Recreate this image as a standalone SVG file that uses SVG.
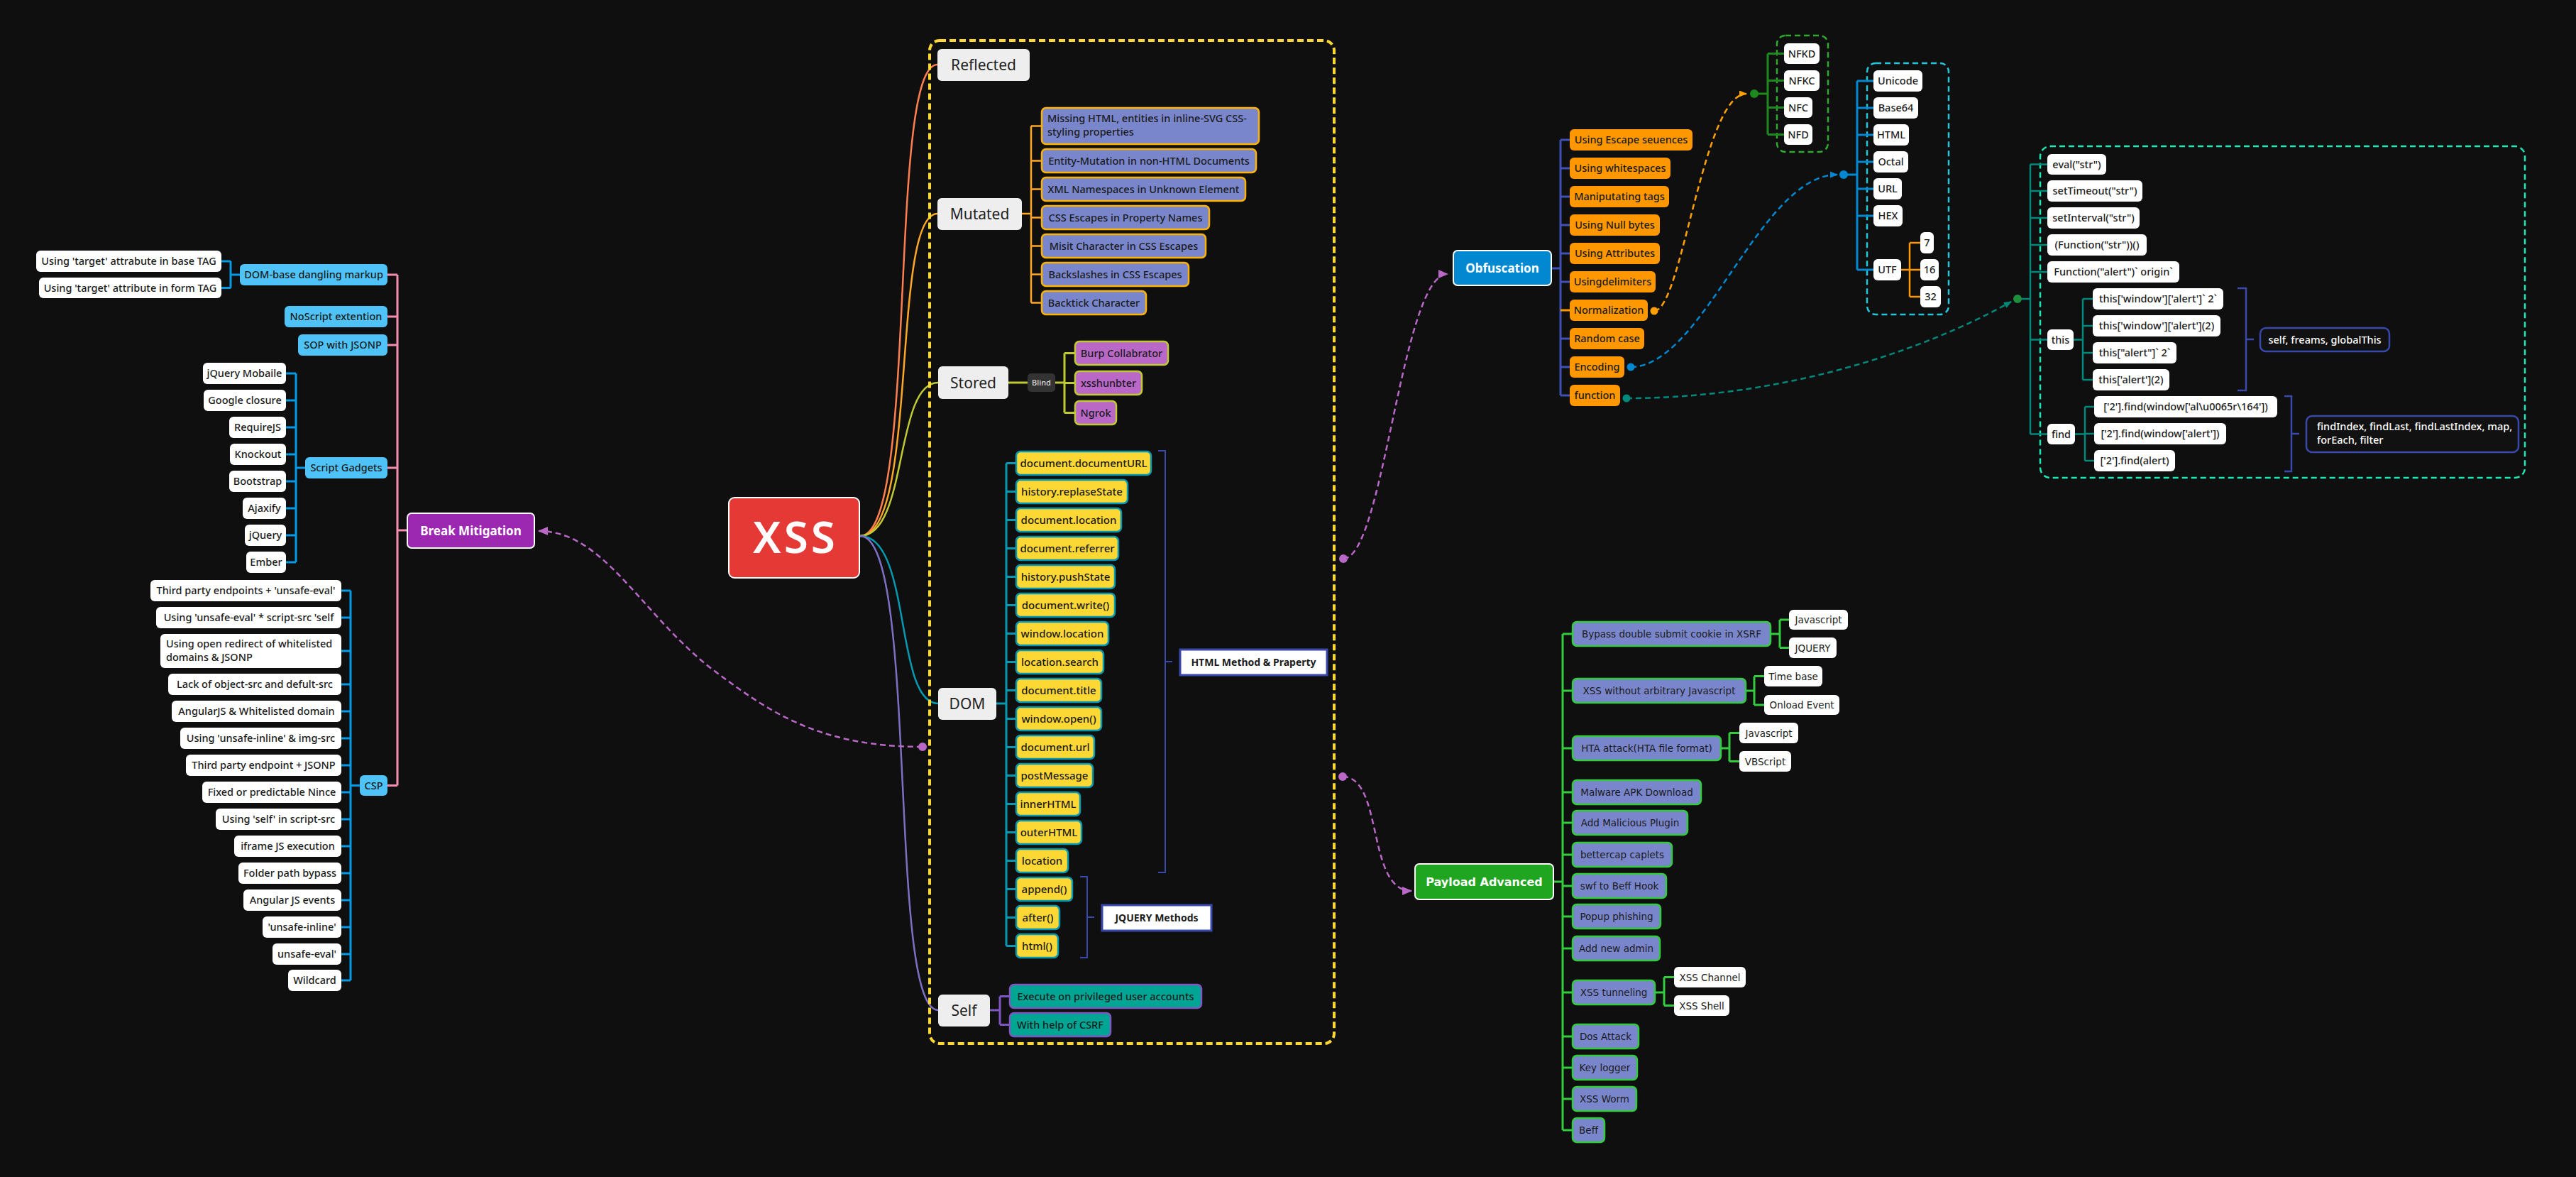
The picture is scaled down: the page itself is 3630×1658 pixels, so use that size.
<svg xmlns="http://www.w3.org/2000/svg" width="3630" height="1658" viewBox="0 0 3630 1658">
<defs>
<style>
text{font-family:"Noto Sans","Liberation Sans",sans-serif;font-size:14.5px;font-weight:500;fill:#1b1b1b;text-anchor:middle}
.l{text-anchor:start}
.main{font-size:21px;font-weight:400;fill:#222}
.dom{font-size:15px}
.pay{font-family:"DejaVu Sans","Liberation Sans",sans-serif;font-size:13.5px}
.hb{font-weight:700;font-size:14px}
.big{font-weight:700;font-size:17px;fill:#fff}
.pbig{font-family:"DejaVu Sans","Liberation Sans",sans-serif;font-weight:700;font-size:16px;fill:#fff}
.xss{font-size:62px;font-weight:600;fill:#fff;letter-spacing:4px}
.blind{font-size:11px;fill:#ddd}
.wt{fill:#fff}
.leaf{fill:#fff}
.mainr{fill:#eeeeee}
.blue{fill:#4FC3F7}
.mut{fill:#7986CB;stroke:#FFB300;stroke-width:2.5}
.sto{fill:#BA68C8;stroke:#C0CA33;stroke-width:2.5}
.domr{fill:#FDD835;stroke:#0599B2;stroke-width:2.5}
.selfr{fill:#00A693;stroke:#7E57C2;stroke-width:2.5}
.org{fill:#FF9800}
.payr{fill:#7986CB;stroke:#33CC3F;stroke-width:2.5}
.lab{fill:#fff;stroke:#3949AB;stroke-width:3}
.dark{fill:#111;stroke:#3949AB;stroke-width:2.5}
.c{fill:none;stroke-width:3}
.cur{fill:none;stroke-width:2.5}
.dash{fill:none;stroke-width:2.5;stroke-dasharray:8 5}
</style>
<marker id="ap" markerUnits="userSpaceOnUse" markerWidth="14" markerHeight="12" viewBox="0 0 14 12" refX="13" refY="6" orient="auto"><path d="M0,0 L14,6 L0,12 z" fill="#BA68C8"/></marker>
<marker id="ao" markerUnits="userSpaceOnUse" markerWidth="11" markerHeight="9" viewBox="0 0 11 9" refX="10" refY="4.5" orient="auto"><path d="M0,0 L11,4.5 L0,9 z" fill="#FFA000"/></marker>
<marker id="ab" markerUnits="userSpaceOnUse" markerWidth="11" markerHeight="9" viewBox="0 0 11 9" refX="10" refY="4.5" orient="auto"><path d="M0,0 L11,4.5 L0,9 z" fill="#0288D1"/></marker>
<marker id="at" markerUnits="userSpaceOnUse" markerWidth="11" markerHeight="9" viewBox="0 0 11 9" refX="10" refY="4.5" orient="auto"><path d="M0,0 L11,4.5 L0,9 z" fill="#00897B"/></marker>
</defs>
<rect x="0" y="0" width="3630" height="1658" fill="#0f0f0f"/>

<g id="connectors">
<path class="cur" stroke="#FF7F50" d="M1212 755 C1295 755 1250 91 1321 91"/>
<path class="cur" stroke="#FFA726" d="M1212 755 C1295 755 1255 301 1321 301"/>
<path class="cur" stroke="#C0CA33" d="M1212 755 C1280 755 1260 539 1322 539"/>
<path class="cur" stroke="#0599B2" d="M1212 755 C1285 755 1260 991 1322 991"/>
<path class="cur" stroke="#7E6FC2" d="M1212 755 C1295 755 1250 1423 1322 1423"/>
<path class="c" stroke="#F48FB1" d="M560 387 V1106.5 M546 387 H560 M546 446 H560 M546 486 H560 M546 659 H560 M546 1106.5 H560 M574 747 H560"/>
<path class="c" stroke="#039BE5" d="M325 368 V405.5 M312 368 H325 M312 405.5 H325 M325 387 H338"/>
<path class="c" stroke="#039BE5" d="M417 526 V792 M403 526 H417 M403 564 H417 M403 602 H417 M403 640 H417 M403 678 H417 M403 716 H417 M403 754 H417 M403 792 H417 M417 659 H430"/>
<path class="c" stroke="#039BE5" d="M494 832 V1381 M481 832 H494 M481 870 H494 M481 917 H494 M481 964 H494 M481 1002 H494 M481 1040 H494 M481 1078 H494 M481 1116 H494 M481 1154 H494 M481 1192 H494 M481 1230 H494 M481 1268 H494 M481 1306 H494 M481 1344 H494 M481 1381 H494 M494 1106.5 H507"/>
<path class="cur" stroke="#FFA726" d="M1453 177.5 V426.5 M1453 177.5 H1468 M1453 226.5 H1468 M1453 266.5 H1468 M1453 306.5 H1468 M1453 346.5 H1468 M1453 386.5 H1468 M1453 426.5 H1468 M1440 301 H1453"/>
<path class="c" stroke="#C0CA33" d="M1421 539 H1448 M1487 539 H1500 M1500 497.5 V581.5 M1500 497.5 H1515 M1500 539.5 H1515 M1500 581.5 H1515"/>
<path class="c" stroke="#0599B2" d="M1418 652.5 V1332.5 M1404 991 H1418 M1418 652.5 H1432 M1418 692.5 H1432 M1418 732.5 H1432 M1418 772.5 H1432 M1418 812.5 H1432 M1418 852.5 H1432 M1418 892.5 H1432 M1418 932.5 H1432 M1418 972.5 H1432 M1418 1012.5 H1432 M1418 1052.5 H1432 M1418 1092.5 H1432 M1418 1132.5 H1432 M1418 1172.5 H1432 M1418 1212.5 H1432 M1418 1252.5 H1432 M1418 1292.5 H1432 M1418 1332.5 H1432"/>
<path fill="none" stroke="#3949AB" stroke-width="2" d="M1632 635 H1642 V1229 H1632 M1642 932 H1652"/>
<path fill="none" stroke="#3949AB" stroke-width="2" d="M1522 1235 H1532 V1349 H1522 M1532 1292 H1542"/>
<path class="c" stroke="#7E57C2" d="M1395 1423 H1409 M1409 1403.5 V1443.5 M1409 1403.5 H1423 M1409 1443.5 H1423"/>
<rect x="1310" y="57" width="570" height="1413" rx="14" fill="none" stroke="#FDD835" stroke-width="4" stroke-dasharray="9 5"/>
<path class="c" stroke="#3F51B5" d="M2199 197 V557 M2186 378 H2199 M2199 197 H2212 M2199 237 H2212 M2199 277 H2212 M2199 317 H2212 M2199 357 H2212 M2199 397 H2212 M2199 477 H2212 M2199 517 H2212 M2199 557 H2212"/>
<path class="c" stroke="#FF9800" d="M2199 437 H2212"/>
<rect x="2504" y="50" width="72" height="164" rx="12" fill="none" stroke="#2EAA2E" stroke-width="2.5" stroke-dasharray="8 5"/>
<path class="c" stroke="#1E8A1E" d="M2491 75.5 V189.5 M2491 75.5 H2514 M2491 113.5 H2514 M2491 151.5 H2514 M2491 189.5 H2514 M2472 132 H2491"/>
<rect x="2631" y="89" width="115" height="354" rx="12" fill="none" stroke="#26C6DA" stroke-width="2.5" stroke-dasharray="8 5"/>
<path class="c" stroke="#0288D1" d="M2617 114 V380 M2617 114 H2640 M2617 152 H2640 M2617 190 H2640 M2617 228 H2640 M2617 266 H2640 M2617 304 H2640 M2617 380 H2640 M2598 246 H2617"/>
<path class="cur" stroke="#FF9800" d="M2679 380 H2691 M2691 342 V418 M2691 342 H2706 M2691 380 H2706 M2691 418 H2706"/>
<rect x="2875" y="206" width="683" height="467" rx="14" fill="none" stroke="#1DE9B6" stroke-width="2.5" stroke-dasharray="8 5"/>
<path class="cur" stroke="#00897B" d="M2861 231.5 V611.5 M2843 421 H2861 M2861 231.5 H2885 M2861 269 H2885 M2861 307 H2885 M2861 345 H2885 M2861 383 H2885 M2861 478.5 H2885 M2861 611.5 H2885"/>
<path class="cur" stroke="#00897B" d="M2922 478.5 H2935 M2935 421 V535 M2935 421 H2949 M2935 459 H2949 M2935 497 H2949 M2935 535 H2949"/>
<path class="cur" stroke="#00897B" d="M2924 611.5 H2938 M2938 573 V649 M2938 573 H2951 M2938 611 H2951 M2938 649 H2951"/>
<path fill="none" stroke="#3949AB" stroke-width="2.5" d="M3153 406 H3165 V550 H3153 M3165 478 H3176"/>
<path fill="none" stroke="#3949AB" stroke-width="2.5" d="M3219 558 H3229 V664 H3219 M3229 611 H3240"/>
<path class="c" stroke="#33CC3F" d="M2202 893 V1592 M2189 1242 H2202 M2202 893 H2216 M2202 973 H2216 M2202 1054 H2216 M2202 1116 H2216 M2202 1159 H2216 M2202 1204 H2216 M2202 1248 H2216 M2202 1291 H2216 M2202 1336 H2216 M2202 1398 H2216 M2202 1460 H2216 M2202 1504 H2216 M2202 1548 H2216 M2202 1592 H2216"/>
<path class="c" stroke="#33CC3F" d="M2495 893 H2508 M2508 873 V912.5 M2508 873 H2521 M2508 912.5 H2521"/>
<path class="c" stroke="#33CC3F" d="M2460 973 H2472 M2472 952.5 V993 M2472 952.5 H2486 M2472 993 H2486"/>
<path class="c" stroke="#33CC3F" d="M2425 1054 H2437 M2437 1032.5 V1072.5 M2437 1032.5 H2451 M2437 1072.5 H2451"/>
<path class="c" stroke="#33CC3F" d="M2332 1398 H2345 M2345 1376.5 V1416.5 M2345 1376.5 H2359 M2345 1416.5 H2359"/>
<path class="dash" stroke="#BA68C8" stroke-width="3" d="M1300 1052 C1150 1052 1080 1000 1000 940 C900 860 850 748 759 748" marker-end="url(#ap)"/>
<circle cx="1300" cy="1052" r="6" fill="#BA68C8"/>
<path class="dash" stroke="#BA68C8" stroke-width="3" d="M1893 787 C1950 787 1975 386 2040 386" marker-end="url(#ap)"/>
<circle cx="1893" cy="787" r="6" fill="#BA68C8"/>
<path class="dash" stroke="#BA68C8" stroke-width="3" d="M1892 1094 C1950 1094 1925 1255 1989 1255" marker-end="url(#ap)"/>
<circle cx="1892" cy="1094" r="6" fill="#BA68C8"/>
<path class="dash" stroke="#FFA000" d="M2331 438 C2370 438 2400 132 2461 132" marker-end="url(#ao)"/>
<circle cx="2331" cy="438" r="5.5" fill="#FFA000"/>
<circle cx="2472" cy="132" r="6" fill="#1E8A1E"/>
<path class="dash" stroke="#0288D1" d="M2298 517 C2400 517 2480 246 2589 246" marker-end="url(#ab)"/>
<circle cx="2298" cy="517" r="5.5" fill="#0288D1"/>
<circle cx="2598" cy="246" r="6" fill="#0288D1"/>
<path class="dash" stroke="#00897B" d="M2292 561 C2500 561 2700 500 2834 425" marker-end="url(#at)"/>
<circle cx="2292" cy="561" r="5.5" fill="#00897B"/>
<circle cx="2843" cy="421" r="6" fill="#1E8E3E"/>
</g>

<g id="xss"><rect x="1027" y="701" width="184" height="113" rx="8" fill="#E53935" stroke="#fff" stroke-width="2"/><text class="xss" x="1121" y="779">XSS</text></g>

<g id="break-mitigation"><rect x="574" y="723" width="179" height="49" rx="6" fill="#9C27B0" stroke="#fff" stroke-width="2"/><text class="big" x="663.5" y="754">Break Mitigation</text></g>
<g id="dom-dangling"><rect class="blue" x="338" y="372" width="208" height="30" rx="6"/><text x="442" y="392">DOM-base dangling markup</text></g>
<g id="base-tag"><rect class="leaf" x="51" y="353" width="261" height="30" rx="6"/><text x="181.5" y="373">Using 'target' attrabute in base TAG</text></g>
<g id="form-tag"><rect class="leaf" x="55" y="391" width="257" height="29" rx="6"/><text x="183.5" y="410.5">Using 'target' attribute in form TAG</text></g>
<g id="noscript"><rect class="blue" x="401" y="431" width="145" height="30" rx="6"/><text x="473.5" y="451">NoScript extention</text></g>
<g id="sop"><rect class="blue" x="420" y="471" width="126" height="30" rx="6"/><text x="483" y="491">SOP with JSONP</text></g>
<g id="script-gadgets"><rect class="blue" x="430" y="644" width="116" height="30" rx="6"/><text x="488" y="664">Script Gadgets</text></g>
<g id="sg1"><rect class="leaf" x="286" y="511" width="117" height="30" rx="6"/><text x="344.5" y="531">jQuery Mobaile</text></g>
<g id="sg2"><rect class="leaf" x="287" y="549" width="116" height="30" rx="6"/><text x="345" y="569">Google closure</text></g>
<g id="sg3"><rect class="leaf" x="323" y="587" width="80" height="30" rx="6"/><text x="363" y="607">RequireJS</text></g>
<g id="sg4"><rect class="leaf" x="324" y="625" width="79" height="30" rx="6"/><text x="363.5" y="645">Knockout</text></g>
<g id="sg5"><rect class="leaf" x="323" y="663" width="80" height="30" rx="6"/><text x="363" y="683">Bootstrap</text></g>
<g id="sg6"><rect class="leaf" x="342" y="701" width="61" height="30" rx="6"/><text x="372.5" y="721">Ajaxify</text></g>
<g id="sg7"><rect class="leaf" x="345" y="739" width="58" height="30" rx="6"/><text x="374" y="759">jQuery</text></g>
<g id="sg8"><rect class="leaf" x="347" y="777" width="56" height="30" rx="6"/><text x="375" y="797">Ember</text></g>
<g id="csp"><rect class="blue" x="507" y="1092" width="39" height="29" rx="6"/><text x="526.5" y="1111.5">CSP</text></g>
<g id="csp1"><rect class="leaf" x="212" y="817" width="269" height="30" rx="6"/><text x="346.5" y="837">Third party endpoints + 'unsafe-eval'</text></g>
<g id="csp2"><rect class="leaf" x="220" y="855" width="261" height="30" rx="6"/><text x="350.5" y="875">Using 'unsafe-eval' * script-src 'self</text></g>
<g id="csp3"><rect class="leaf" x="226" y="893" width="255" height="48" rx="6"/><text class="l" x="234" y="912">Using open redirect of whitelisted</text><text class="l" x="234" y="931">domains &amp; JSONP</text></g>
<g id="csp4"><rect class="leaf" x="237" y="949" width="244" height="30" rx="6"/><text x="359" y="969">Lack of object-src and defult-src</text></g>
<g id="csp5"><rect class="leaf" x="242" y="987" width="239" height="30" rx="6"/><text x="361.5" y="1007">AngularJS &amp; Whitelisted domain</text></g>
<g id="csp6"><rect class="leaf" x="254" y="1025" width="227" height="30" rx="6"/><text x="367.5" y="1045">Using 'unsafe-inline' &amp; img-src</text></g>
<g id="csp7"><rect class="leaf" x="262" y="1063" width="219" height="30" rx="6"/><text x="371.5" y="1083">Third party endpoint + JSONP</text></g>
<g id="csp8"><rect class="leaf" x="285" y="1101" width="196" height="30" rx="6"/><text x="383" y="1121">Fixed or predictable Nince</text></g>
<g id="csp9"><rect class="leaf" x="304" y="1139" width="177" height="30" rx="6"/><text x="392.5" y="1159">Using 'self' in script-src</text></g>
<g id="csp10"><rect class="leaf" x="330" y="1177" width="151" height="30" rx="6"/><text x="405.5" y="1197">iframe JS execution</text></g>
<g id="csp11"><rect class="leaf" x="336" y="1215" width="145" height="30" rx="6"/><text x="408.5" y="1235">Folder path bypass</text></g>
<g id="csp12"><rect class="leaf" x="343" y="1253" width="138" height="30" rx="6"/><text x="412" y="1273">Angular JS events</text></g>
<g id="csp13"><rect class="leaf" x="370" y="1291" width="111" height="30" rx="6"/><text x="425.5" y="1311">'unsafe-inline'</text></g>
<g id="csp14"><rect class="leaf" x="384" y="1329" width="97" height="30" rx="6"/><text x="432.5" y="1349">unsafe-eval'</text></g>
<g id="csp15"><rect class="leaf" x="406" y="1366" width="75" height="30" rx="6"/><text x="443.5" y="1386">Wildcard</text></g>

<g id="reflected"><rect class="mainr" x="1321" y="69" width="130" height="45" rx="6"/><text class="main" x="1386" y="99">Reflected</text></g>
<g id="mutated"><rect class="mainr" x="1321" y="279" width="119" height="45" rx="6"/><text class="main" x="1380.5" y="309">Mutated</text></g>
<g id="stored"><rect class="mainr" x="1322" y="516" width="99" height="46" rx="6"/><text class="main" x="1371.5" y="546.5">Stored</text></g>
<g id="dom"><rect class="mainr" x="1322" y="969" width="82" height="45" rx="6"/><text class="main" x="1363" y="999">DOM</text></g>
<g id="self"><rect class="mainr" x="1322" y="1401" width="73" height="45" rx="6"/><text class="main" x="1358.5" y="1431">Self</text></g>

<g id="mut1"><rect class="mut" x="1468" y="152" width="306" height="51" rx="6"/><text class="l" x="1476" y="172">Missing HTML, entities in inline-SVG CSS-</text><text class="l" x="1476" y="191">styling properties</text></g>
<g id="mut2"><rect class="mut" x="1468" y="210" width="302" height="33" rx="6"/><text x="1619" y="231.5">Entity-Mutation in non-HTML Documents</text></g>
<g id="mut3"><rect class="mut" x="1468" y="250" width="287" height="33" rx="6"/><text x="1611.5" y="271.5">XML Namespaces in Unknown Element</text></g>
<g id="mut4"><rect class="mut" x="1468" y="290" width="236" height="33" rx="6"/><text x="1586" y="311.5">CSS Escapes in Property Names</text></g>
<g id="mut5"><rect class="mut" x="1468" y="330" width="231" height="33" rx="6"/><text x="1583.5" y="351.5">Misit Character in CSS Escapes</text></g>
<g id="mut6"><rect class="mut" x="1468" y="370" width="207" height="33" rx="6"/><text x="1571.5" y="391.5">Backslashes in CSS Escapes</text></g>
<g id="mut7"><rect class="mut" x="1468" y="410" width="147" height="33" rx="6"/><text x="1541.5" y="431.5">Backtick Character</text></g>

<g id="blind"><rect x="1448" y="526" width="39" height="26" rx="5" fill="#333"/><text class="blind" x="1467.5" y="543">Blind</text></g>
<g id="burp"><rect class="sto" x="1515" y="481" width="131" height="33" rx="6"/><text x="1580.5" y="502.5">Burp Collabrator</text></g>
<g id="xsshunter"><rect class="sto" x="1515" y="523" width="94" height="33" rx="6"/><text x="1562" y="544.5">xsshunbter</text></g>
<g id="ngrok"><rect class="sto" x="1515" y="565" width="58" height="33" rx="6"/><text x="1544" y="586.5">Ngrok</text></g>

<g id="dom1"><rect class="domr" x="1432" y="636" width="190" height="33" rx="6"/><text class="dom" x="1527" y="658">document.documentURL</text></g>
<g id="dom2"><rect class="domr" x="1432" y="676" width="157" height="33" rx="6"/><text class="dom" x="1510.5" y="698">history.replaseState</text></g>
<g id="dom3"><rect class="domr" x="1432" y="716" width="148" height="33" rx="6"/><text class="dom" x="1506" y="738">document.location</text></g>
<g id="dom4"><rect class="domr" x="1432" y="756" width="144" height="33" rx="6"/><text class="dom" x="1504" y="778">document.referrer</text></g>
<g id="dom5"><rect class="domr" x="1432" y="796" width="139" height="33" rx="6"/><text class="dom" x="1501.5" y="818">history.pushState</text></g>
<g id="dom6"><rect class="domr" x="1432" y="836" width="139" height="33" rx="6"/><text class="dom" x="1501.5" y="858">document.write()</text></g>
<g id="dom7"><rect class="domr" x="1432" y="876" width="130" height="33" rx="6"/><text class="dom" x="1497" y="898">window.location</text></g>
<g id="dom8"><rect class="domr" x="1432" y="916" width="123" height="33" rx="6"/><text class="dom" x="1493.5" y="938">location.search</text></g>
<g id="dom9"><rect class="domr" x="1432" y="956" width="120" height="33" rx="6"/><text class="dom" x="1492" y="978">document.title</text></g>
<g id="dom10"><rect class="domr" x="1432" y="996" width="120" height="33" rx="6"/><text class="dom" x="1492" y="1018">window.open()</text></g>
<g id="dom11"><rect class="domr" x="1432" y="1036" width="110" height="33" rx="6"/><text class="dom" x="1487" y="1058">document.url</text></g>
<g id="dom12"><rect class="domr" x="1432" y="1076" width="108" height="33" rx="6"/><text class="dom" x="1486" y="1098">postMessage</text></g>
<g id="dom13"><rect class="domr" x="1432" y="1116" width="90" height="33" rx="6"/><text class="dom" x="1477" y="1138">innerHTML</text></g>
<g id="dom14"><rect class="domr" x="1432" y="1156" width="92" height="33" rx="6"/><text class="dom" x="1478" y="1178">outerHTML</text></g>
<g id="dom15"><rect class="domr" x="1432" y="1196" width="73" height="33" rx="6"/><text class="dom" x="1468.5" y="1218">location</text></g>
<g id="dom16"><rect class="domr" x="1432" y="1236" width="79" height="33" rx="6"/><text class="dom" x="1471.5" y="1258">append()</text></g>
<g id="dom17"><rect class="domr" x="1432" y="1276" width="61" height="33" rx="6"/><text class="dom" x="1462.5" y="1298">after()</text></g>
<g id="dom18"><rect class="domr" x="1432" y="1316" width="59" height="33" rx="6"/><text class="dom" x="1461.5" y="1338">html()</text></g>
<g id="html-method"><rect class="lab" x="1663" y="915" width="207" height="36"/><text class="hb" x="1766.5" y="938">HTML Method &amp; Praperty</text></g>
<g id="jquery-methods"><rect class="lab" x="1553" y="1275" width="154" height="36"/><text class="hb" x="1630" y="1298">JQUERY Methods</text></g>

<g id="self1"><rect class="selfr" x="1423" y="1387" width="270" height="33" rx="6"/><text x="1558" y="1408.5">Execute on privileged user accounts</text></g>
<g id="self2"><rect class="selfr" x="1423" y="1427" width="142" height="33" rx="6"/><text x="1494" y="1448.5">With help of CSRF</text></g>

<g id="obfuscation"><rect x="2048" y="353" width="138" height="49" rx="6" fill="#0288D1" stroke="#fff" stroke-width="2"/><text class="big" x="2117" y="384">Obfuscation</text></g>
<g id="ob1"><rect class="org" x="2212" y="182" width="173" height="30" rx="6"/><text x="2298.5" y="202">Using Escape seuences</text></g>
<g id="ob2"><rect class="org" x="2212" y="222" width="142" height="30" rx="6"/><text x="2283" y="242">Using whitespaces</text></g>
<g id="ob3"><rect class="org" x="2212" y="262" width="140" height="30" rx="6"/><text x="2282" y="282">Maniputating tags</text></g>
<g id="ob4"><rect class="org" x="2212" y="302" width="127" height="30" rx="6"/><text x="2275.5" y="322">Using Null bytes</text></g>
<g id="ob5"><rect class="org" x="2212" y="342" width="127" height="30" rx="6"/><text x="2275.5" y="362">Using Attributes</text></g>
<g id="ob6"><rect class="org" x="2212" y="382" width="121" height="30" rx="6"/><text x="2272.5" y="402">Usingdelimiters</text></g>
<g id="ob7"><rect class="org" x="2212" y="422" width="110" height="30" rx="6"/><text x="2267" y="442">Normalization</text></g>
<g id="ob8"><rect class="org" x="2212" y="462" width="105" height="30" rx="6"/><text x="2264.5" y="482">Random case</text></g>
<g id="ob9"><rect class="org" x="2212" y="502" width="77" height="30" rx="6"/><text x="2250.5" y="522">Encoding</text></g>
<g id="ob10"><rect class="org" x="2212" y="542" width="71" height="30" rx="6"/><text x="2247.5" y="562">function</text></g>

<g id="nfkd"><rect class="leaf" x="2514" y="61" width="50" height="29" rx="6"/><text x="2539" y="80.5">NFKD</text></g>
<g id="nfkc"><rect class="leaf" x="2514" y="99" width="50" height="29" rx="6"/><text x="2539" y="118.5">NFKC</text></g>
<g id="nfc"><rect class="leaf" x="2514" y="137" width="40" height="29" rx="6"/><text x="2534" y="156.5">NFC</text></g>
<g id="nfd"><rect class="leaf" x="2514" y="175" width="40" height="29" rx="6"/><text x="2534" y="194.5">NFD</text></g>

<g id="enc-unicode"><rect class="leaf" x="2640" y="99" width="69" height="30" rx="6"/><text x="2674.5" y="119">Unicode</text></g>
<g id="enc-base64"><rect class="leaf" x="2640" y="137" width="63" height="30" rx="6"/><text x="2671.5" y="157">Base64</text></g>
<g id="enc-html"><rect class="leaf" x="2640" y="175" width="50" height="30" rx="6"/><text x="2665" y="195">HTML</text></g>
<g id="enc-octal"><rect class="leaf" x="2640" y="213" width="49" height="30" rx="6"/><text x="2664.5" y="233">Octal</text></g>
<g id="enc-url"><rect class="leaf" x="2640" y="251" width="40" height="30" rx="6"/><text x="2660" y="271">URL</text></g>
<g id="enc-hex"><rect class="leaf" x="2640" y="289" width="41" height="30" rx="6"/><text x="2660.5" y="309">HEX</text></g>
<g id="enc-utf"><rect class="leaf" x="2640" y="365" width="39" height="30" rx="6"/><text x="2659.5" y="385">UTF</text></g>
<g id="utf7"><rect class="leaf" x="2706" y="327" width="19" height="30" rx="6"/><text x="2715.5" y="347">7</text></g>
<g id="utf16"><rect class="leaf" x="2706" y="365" width="26" height="30" rx="6"/><text x="2719" y="385">16</text></g>
<g id="utf32"><rect class="leaf" x="2706" y="403" width="29" height="30" rx="6"/><text x="2720.5" y="423">32</text></g>

<g id="fn1"><rect class="leaf" x="2885" y="217" width="83" height="29" rx="6"/><text x="2926.5" y="236.5">eval("str")</text></g>
<g id="fn2"><rect class="leaf" x="2885" y="254" width="134" height="30" rx="6"/><text x="2952" y="274">setTimeout("str")</text></g>
<g id="fn3"><rect class="leaf" x="2885" y="292" width="130" height="30" rx="6"/><text x="2950" y="312">setInterval("str")</text></g>
<g id="fn4"><rect class="leaf" x="2885" y="330" width="140" height="30" rx="6"/><text x="2955" y="350">(Function("str"))()</text></g>
<g id="fn5"><rect class="leaf" x="2885" y="368" width="186" height="30" rx="6"/><text x="2978" y="388">Function("alert")` origin`</text></g>
<g id="fn-this"><rect class="leaf" x="2885" y="464" width="37" height="29" rx="6"/><text x="2903.5" y="483.5">this</text></g>
<g id="fn-find"><rect class="leaf" x="2885" y="597" width="39" height="29" rx="6"/><text x="2904.5" y="616.5">find</text></g>
<g id="this1"><rect class="leaf" x="2949" y="406" width="184" height="30" rx="6"/><text x="3041" y="426">this['window']['alert']` 2`</text></g>
<g id="this2"><rect class="leaf" x="2949" y="444" width="180" height="30" rx="6"/><text x="3039" y="464">this['window']['alert'](2)</text></g>
<g id="this3"><rect class="leaf" x="2949" y="482" width="118" height="30" rx="6"/><text x="3008" y="502">this["alert"]` 2`</text></g>
<g id="this4"><rect class="leaf" x="2949" y="520" width="108" height="30" rx="6"/><text x="3003" y="540">this['alert'](2)</text></g>
<g id="this-note"><rect class="dark" x="3185" y="462" width="182" height="33" rx="8"/><text class="wt" x="3276" y="483.5">self, freams, globalThis</text></g>
<g id="find1"><rect class="leaf" x="2951" y="558" width="258" height="30" rx="6"/><text x="3080" y="578">['2'].find(window['al\u0065r\164'])</text></g>
<g id="find2"><rect class="leaf" x="2951" y="596" width="186" height="30" rx="6"/><text x="3044" y="616">['2'].find(window['alert'])</text></g>
<g id="find3"><rect class="leaf" x="2951" y="634" width="114" height="30" rx="6"/><text x="3008" y="654">['2'].find(alert)</text></g>
<g id="find-note"><rect class="dark" x="3250" y="586" width="299" height="51" rx="8"/><text class="l wt" x="3265" y="606">findIndex, findLast, findLastIndex, map,</text><text class="l wt" x="3265" y="625">forEach, filter</text></g>

<g id="payload"><rect x="1994" y="1217" width="195" height="50" rx="6" fill="#1FA51F" stroke="#fff" stroke-width="2"/><text class="pbig" x="2091.5" y="1248">Payload Advanced</text></g>
<g id="pa1"><rect class="payr" x="2216" y="876" width="279" height="34" rx="6"/><text class="pay" x="2355.5" y="898">Bypass double submit cookie in XSRF</text></g>
<g id="pa2"><rect class="payr" x="2216" y="956" width="244" height="34" rx="6"/><text class="pay" x="2338" y="978">XSS without arbitrary Javascript</text></g>
<g id="pa3"><rect class="payr" x="2216" y="1037" width="209" height="34" rx="6"/><text class="pay" x="2320.5" y="1059">HTA attack(HTA file format)</text></g>
<g id="pa4"><rect class="payr" x="2216" y="1099" width="181" height="34" rx="6"/><text class="pay" x="2306.5" y="1121">Malware APK Download</text></g>
<g id="pa5"><rect class="payr" x="2216" y="1142" width="162" height="34" rx="6"/><text class="pay" x="2297" y="1164">Add Malicious Plugin</text></g>
<g id="pa6"><rect class="payr" x="2216" y="1187" width="140" height="34" rx="6"/><text class="pay" x="2286" y="1209">bettercap caplets</text></g>
<g id="pa7"><rect class="payr" x="2216" y="1231" width="132" height="34" rx="6"/><text class="pay" x="2282" y="1253">swf to Beff Hook</text></g>
<g id="pa8"><rect class="payr" x="2216" y="1274" width="124" height="34" rx="6"/><text class="pay" x="2278" y="1296">Popup phishing</text></g>
<g id="pa9"><rect class="payr" x="2216" y="1319" width="123" height="34" rx="6"/><text class="pay" x="2277.5" y="1341">Add new admin</text></g>
<g id="pa10"><rect class="payr" x="2216" y="1381" width="116" height="34" rx="6"/><text class="pay" x="2274" y="1403">XSS tunneling</text></g>
<g id="pa11"><rect class="payr" x="2216" y="1443" width="93" height="34" rx="6"/><text class="pay" x="2262.5" y="1465">Dos Attack</text></g>
<g id="pa12"><rect class="payr" x="2216" y="1487" width="91" height="34" rx="6"/><text class="pay" x="2261.5" y="1509">Key logger</text></g>
<g id="pa13"><rect class="payr" x="2216" y="1531" width="90" height="34" rx="6"/><text class="pay" x="2261" y="1553">XSS Worm</text></g>
<g id="pa14"><rect class="payr" x="2216" y="1575" width="45" height="34" rx="6"/><text class="pay" x="2238.5" y="1597">Beff</text></g>
<g id="pa1-js"><rect class="leaf" x="2521" y="859" width="83" height="28" rx="6"/><text class="pay" x="2562.5" y="878">Javascript</text></g>
<g id="pa1-jq"><rect class="leaf" x="2521" y="898" width="67" height="29" rx="6"/><text class="pay" x="2554.5" y="917.5">JQUERY</text></g>
<g id="pa2-tb"><rect class="leaf" x="2486" y="938" width="82" height="29" rx="6"/><text class="pay" x="2527" y="957.5">Time base</text></g>
<g id="pa2-oe"><rect class="leaf" x="2486" y="979" width="106" height="28" rx="6"/><text class="pay" x="2539" y="998">Onload Event</text></g>
<g id="pa3-js"><rect class="leaf" x="2451" y="1018" width="83" height="29" rx="6"/><text class="pay" x="2492.5" y="1037.5">Javascript</text></g>
<g id="pa3-vb"><rect class="leaf" x="2451" y="1058" width="73" height="29" rx="6"/><text class="pay" x="2487.5" y="1077.5">VBScript</text></g>
<g id="pa10-ch"><rect class="leaf" x="2359" y="1362" width="101" height="29" rx="6"/><text class="pay" x="2409.5" y="1381.5">XSS Channel</text></g>
<g id="pa10-sh"><rect class="leaf" x="2359" y="1402" width="78" height="29" rx="6"/><text class="pay" x="2398" y="1421.5">XSS Shell</text></g>
</svg>
